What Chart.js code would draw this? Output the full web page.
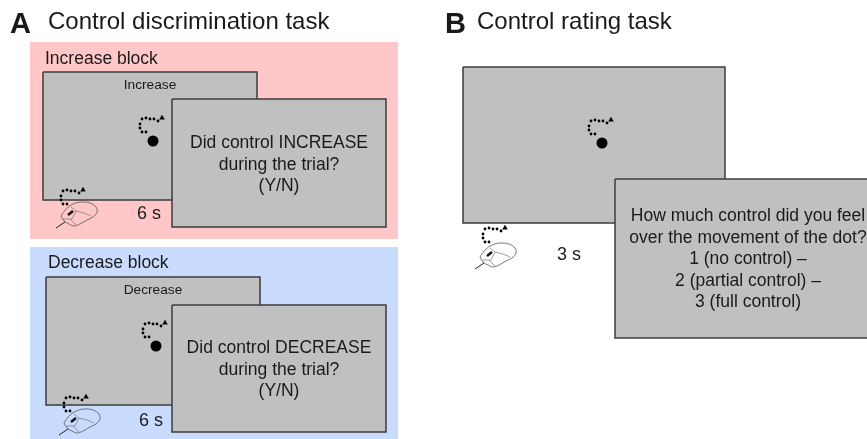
<!DOCTYPE html>
<html>
<head>
<meta charset="utf-8">
<style>
  html, body { margin: 0; padding: 0; background: #fff; }
  canvas { display: block; }
</style>
<script src="https://cdn.jsdelivr.net/npm/chart.js@4/dist/chart.umd.min.js"></script>
</head>
<body>
<canvas id="taskCanvas" width="867" height="439"></canvas>
<script>
// boxes: x0, y0, x1, y1, in picture units
var blockBoxes = [[30, 42, 398, 239, '#ffc7c7'], [30, 247, 398, 439, '#c9dcff']];
var screenBoxes = [
    [43, 72, 257, 200], [172, 99, 386, 227],
    [46, 277, 260, 405], [172, 305, 386, 432],
    [463, 67, 725, 223], [615, 179, 870, 338]
];
// one dotted cursor trail, and where it gets repeated
var trailX = [146, 142, 140, 140, 142, 146, 150, 154, 158];
var trailY = [132, 132, 128, 124, 119, 118, 119, 119, 121];
var trailTipX = 162;
var trailTipY = 118;
var trailShifts = [[0, 0], [-79, 72], [3, 205], [-76, 279], [449, 2], [343, 110]];
var dotCentres = [[153, 141], [156, 346], [602, 143]];
// mouse outline, repeated for the three mice
var mouseOutline = [[61, 216], [66, 209], [73, 204], [81, 202], [90, 203], [96, 207], [97, 212], [93, 217], [87, 220], [80, 224], [74, 226], [69, 224], [64, 221], [61, 216]];
var mouseButtons = [[71, 207], [76, 211], [84, 213], [91, 216]];
var mouseFold = [[63, 219], [70, 219], [76, 225]];
var mouseSplit = [[76, 211], [72, 219], [70, 219]];
var mouseCable = [[65, 222], [56, 228]];
var mouseWheel = [[68, 215], [73, 211]];
var mouseShifts = [[0, 0], [3, 207], [419, 41]];
var labels = [
    ['A', 10, 25, 'bold 29px', 'left'],
    ['Control discrimination task', 48, 22, '24px', 'left'],
    ['B', 445, 25, 'bold 29px', 'left'],
    ['Control rating task', 477, 22, '24px', 'left'],
    ['Increase block', 45, 59, '17.5px', 'left'],
    ['Decrease block', 48, 263, '17.5px', 'left'],
    ['Increase', 150, 85, '13.7px', 'center'],
    ['Decrease', 153, 290, '13.7px', 'center'],
    ['Did control INCREASE', 279, 143, '17.5px', 'center'],
    ['during the trial?', 279, 165, '17.5px', 'center'],
    ['(Y/N)', 279, 186, '17.5px', 'center'],
    ['Did control DECREASE', 279, 348, '17.5px', 'center'],
    ['during the trial?', 279, 370, '17.5px', 'center'],
    ['(Y/N)', 279, 391, '17.5px', 'center'],
    ['6 s', 149, 214, '18px', 'center'],
    ['6 s', 151, 421, '18px', 'center'],
    ['3 s', 569, 255, '18px', 'center'],
    ['How much control did you feel', 748, 216, '17.5px', 'center'],
    ['over the movement of the dot?', 748, 238, '17.5px', 'center'],
    ['1 (no control) \u2013', 748, 259, '17.5px', 'center'],
    ['2 (partial control) \u2013', 748, 281, '17.5px', 'center'],
    ['3 (full control)', 748, 302, '17.5px', 'center']
];

function toPoints(pairs, dx, dy) {
    return pairs.map(function(p) { return {x: p[0] + dx, y: p[1] + dy}; });
}
function boxDataset(b, fillColor, borderColor, borderWidth) {
    return {
        type: 'line',
        data: toPoints([[b[0], b[1]], [b[2], b[1]], [b[2], b[3]], [b[0], b[3]], [b[0], b[1]]], 0, 0),
        backgroundColor: fillColor,
        borderColor: borderColor,
        borderWidth: borderWidth,
        fill: 'shape',
        pointRadius: 0,
        tension: 0
    };
}
function lineDataset(pairs, dx, dy, color, width, curved) {
    return {
        type: 'line',
        data: toPoints(pairs, dx, dy),
        borderColor: color,
        borderWidth: width,
        fill: false,
        pointRadius: 0,
        tension: curved ? 0.35 : 0
    };
}
function markDataset(points, radius, style) {
    return {
        type: 'scatter',
        data: points,
        showLine: false,
        backgroundColor: '#000',
        borderColor: '#000',
        borderWidth: 0,
        pointRadius: radius,
        pointStyle: style
    };
}

// in paint order, first one at the back
var layers = [];
blockBoxes.forEach(function(b) { layers.push(boxDataset(b, b[4], b[4], 0)); });
function addScreen(i) { layers.push(boxDataset(screenBoxes[i], '#c0c0c0', '#3c3c3c', 1.5)); }
function addTrail(i) {
    var s = trailShifts[i];
    layers.push(markDataset(trailX.map(function(x, k) { return {x: x + s[0], y: trailY[k] + s[1]}; }), 1.4, 'circle'));
    layers.push(markDataset([{x: trailTipX + s[0], y: trailTipY + s[1]}], 3.2, 'triangle'));
}
screenBoxes.forEach(function(b, i) { addScreen(i); });
trailShifts.forEach(function(s, i) { addTrail(i); });
dotCentres.forEach(function(c) { layers.push(markDataset([{x: c[0], y: c[1]}], 5.5, 'circle')); });
mouseShifts.forEach(function(s) {
    layers.push(lineDataset(mouseOutline, s[0], s[1], '#555', 0.8, true));
    layers.push(lineDataset(mouseButtons, s[0], s[1], '#777', 0.7, false));
    layers.push(lineDataset(mouseFold, s[0], s[1], '#777', 0.7, false));
    layers.push(lineDataset(mouseSplit, s[0], s[1], '#777', 0.7, false));
    layers.push(lineDataset(mouseCable, s[0], s[1], '#222', 1, false));
    layers.push(lineDataset(mouseWheel, s[0], s[1], '#111', 2.4, false));
});
layers.forEach(function(d, i) { d.order = layers.length - i; });

var textPlugin = {
    id: 'taskText',
    afterDatasetsDraw: function(chart) {
        var ctx = chart.ctx;
        ctx.save();
        ctx.fillStyle = '#1a1a1a';
        ctx.textBaseline = 'middle';
        labels.forEach(function(t) {
            ctx.font = t[3] + ' "Liberation Sans", Arial, sans-serif';
            ctx.textAlign = t[4];
            ctx.fillText(t[0], chart.scales.x.getPixelForValue(t[1]), chart.scales.y.getPixelForValue(t[2]));
        });
        ctx.restore();
    }
};

var ctxTask = document.getElementById('taskCanvas').getContext('2d');
var chartTask = new Chart(ctxTask, {
    data: {datasets: layers},
    plugins: [textPlugin],
    options: {
        responsive: false,
        animation: false,
        layout: {padding: 0, autoPadding: false},
        plugins: {legend: {display: false}, tooltip: {enabled: false}},
        scales: {
            x: {type: 'linear', min: 0, max: 867, display: false},
            y: {type: 'linear', min: 0, max: 439, reverse: true, display: false}
        }
    }
});
</script>
</body>
</html>
